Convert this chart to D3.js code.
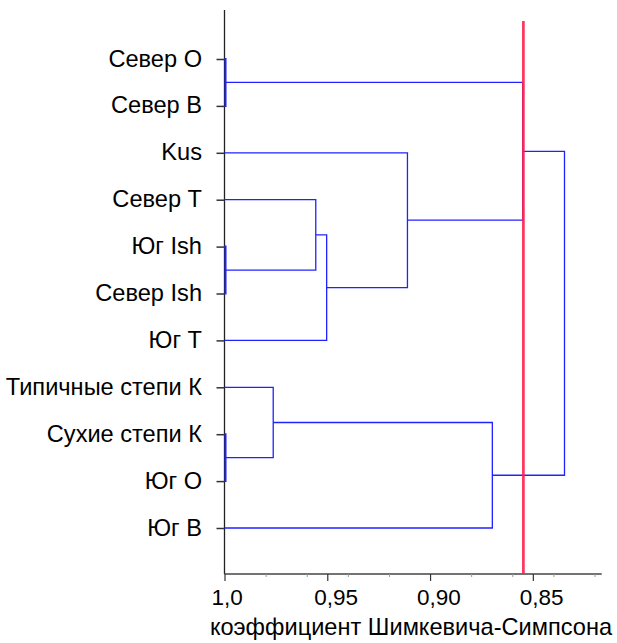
<!DOCTYPE html>
<html lang="ru">
<head>
<meta charset="utf-8">
<title>Dendrogram</title>
<script src="https://cdn.jsdelivr.net/npm/d3@7"></script>
<style>
  body { margin: 0; background: #fff; }
  text { font-family: "Liberation Sans", Arial, sans-serif; fill: #000; }
</style>
</head>
<body>
<script>
// leaves, top to bottom
var leaves = ["Север О", "Север В", "Kus", "Север Т", "Юг Ish", "Север Ish",
              "Юг Т", "Типичные степи К", "Сухие степи К", "Юг О", "Юг В"];

// merges: [node a, node b, similarity]; new node ids start after the leaves
var mergeA = [0, 4, 8, 3, 14, 2, 11, 7, 18, 17];
var mergeB = [1, 5, 9, 12, 6, 15, 16, 13, 10, 19];
var mergeH = [0.9995, 0.9995, 0.9995, 0.9556, 0.9503, 0.9110, 0.8549, 0.9763, 0.8697, 0.8346];

var cutoff = 0.8546;

var majorTicks = [1.0, 0.95, 0.90, 0.85];
var majorLabels = ["1,0", "0,95", "0,90", "0,85"];
var minorTicks = [0.98, 0.96, 0.94, 0.92, 0.88, 0.86, 0.84, 0.82];
var xTitle = "коэффициент Шимкевича-Симпсона";

var width = 617, height = 643;

var svg = d3.select("body").append("svg")
  .attr("width", width)
  .attr("height", height);

var x = d3.scaleLinear().domain([1.0, 0.8165]).range([224.5, 601.7]);
var y = d3.scalePoint().domain(d3.range(leaves.length)).range([59, 528]);

// node positions
var nodes = leaves.map(function(d, i) { return { h: 1.0, y: y(i) }; });
mergeA.forEach(function(a, i) {
  var b = mergeB[i];
  nodes.push({ h: mergeH[i], y: (nodes[a].y + nodes[b].y) / 2, a: a, b: b });
});

// axes
var axisY = 574;

svg.append("line")
  .attr("x1", x(1)).attr("x2", x(1))
  .attr("y1", 10).attr("y2", axisY)
  .attr("stroke", "#222").attr("stroke-width", 1.3);

svg.append("line")
  .attr("x1", x(1)).attr("x2", x.range()[1])
  .attr("y1", axisY).attr("y2", axisY)
  .attr("stroke", "#444").attr("stroke-width", 1.3);

var gMajor = svg.append("g")
  .attr("transform", "translate(0," + axisY + ")")
  .call(d3.axisBottom(x).tickValues(majorTicks).tickSize(7).tickFormat(""));
gMajor.select(".domain").remove();
gMajor.selectAll(".tick line").attr("stroke", "#333").attr("stroke-width", 1.2);

var gMinor = svg.append("g")
  .attr("transform", "translate(0," + axisY + ")")
  .call(d3.axisBottom(x).tickValues(minorTicks).tickSize(3).tickFormat(""));
gMinor.select(".domain").remove();
gMinor.selectAll(".tick line").attr("stroke", "#999").attr("stroke-width", 1);

svg.selectAll(".xlab")
  .data(majorTicks)
  .enter().append("text")
  .attr("class", "xlab")
  .attr("x", function(d) { return x(d) - 13; })
  .attr("y", 605)
  .attr("font-size", 22.5)
  .text(function(d, i) { return majorLabels[i]; });

svg.append("text")
  .attr("x", 411)
  .attr("y", 635)
  .attr("text-anchor", "middle")
  .attr("font-size", 23.6)
  .text(xTitle);

// leaf ticks and labels
var gY = svg.append("g")
  .attr("transform", "translate(" + x(1) + ",0)")
  .call(d3.axisLeft(y).tickSize(8).tickFormat(""));
gY.select(".domain").remove();
gY.selectAll(".tick line").attr("stroke", "#333").attr("stroke-width", 1.5);

svg.selectAll(".ylab")
  .data(leaves)
  .enter().append("text")
  .attr("class", "ylab")
  .attr("x", 202)
  .attr("y", function(d, i) { return y(i) + 7.5; })
  .attr("text-anchor", "end")
  .attr("font-size", 23.6)
  .text(function(d) { return d; });

// dendrogram links
var links = nodes.filter(function(n) { return n.a !== undefined; });

svg.append("g").selectAll("path")
  .data(links)
  .enter().append("path")
  .attr("fill", "none")
  .attr("stroke", "#2222ff")
  .attr("stroke-width", function(d) { return d.h > 0.999 ? 2 : 1.3; })
  .attr("d", function(d) {
    var A = nodes[d.a], B = nodes[d.b], xm = x(d.h);
    return "M" + x(A.h) + "," + A.y + "H" + xm + "V" + B.y + "H" + x(B.h);
  });

// cut-off line
svg.append("line")
  .attr("x1", x(cutoff)).attr("x2", x(cutoff))
  .attr("y1", 21).attr("y2", axisY)
  .attr("stroke", "#ff1f4b")
  .attr("stroke-opacity", 0.9)
  .attr("stroke-width", 2.7);
</script>
</body>
</html>
